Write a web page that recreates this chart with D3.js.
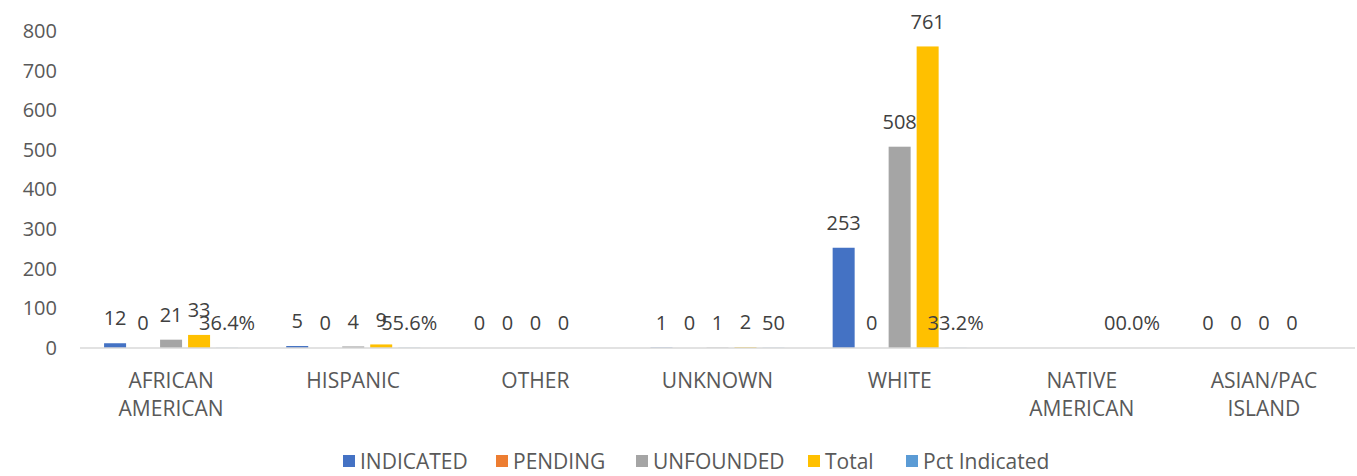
<!DOCTYPE html>
<html>
<head>
<meta charset="utf-8">
<script src="https://cdn.jsdelivr.net/npm/d3@7"></script>
<style>
  body { margin: 0; background: #fff; }
  text { font-family: "Open Sans", sans-serif; }
</style>
</head>
<body>
<div id="chart"></div>
<script>
// chart data
const categories = ["AFRICAN AMERICAN", "HISPANIC", "OTHER", "UNKNOWN", "WHITE", "NATIVE AMERICAN", "ASIAN/PAC ISLAND"];
const seriesNames = ["INDICATED", "PENDING", "UNFOUNDED", "Total", "Pct Indicated"];
const indicated = [12, 5, 0, 1, 253, null, 0];
const pending = [0, 0, 0, 0, 0, null, 0];
const unfounded = [21, 4, 0, 1, 508, null, 0];
const total = [33, 9, 0, 2, 761, 0, 0];
const pctIndicated = [0.364, 0.556, null, 0.5, 0.332, 0, null];
const pctLabels = ["36.4%", "55.6%", "", "50", "33.2%", "0.0%", ""];
const yTicks = [0, 100, 200, 300, 400, 500, 600, 700, 800];

const colors = ["#4472C4", "#ED7D31", "#A5A5A5", "#FFC000", "#5B9BD5"];

const W = 1357, H = 476;
const margin = {top: 31, right: 2, bottom: 128, left: 80};
const width = W - margin.left - margin.right;
const height = H - margin.top - margin.bottom;

const svg = d3.select("#chart").append("svg")
  .attr("width", W).attr("height", H);
const g = svg.append("g")
  .attr("transform", "translate(" + margin.left + "," + margin.top + ")");

// build rows
const valuesBySeries = [indicated, pending, unfounded, total, pctIndicated];
const rows = categories.map((c, i) => ({
  cat: c,
  vals: seriesNames.map((s, k) => ({
    key: s, k: k, value: valuesBySeries[k][i],
    label: k === 4 ? pctLabels[i] : (valuesBySeries[k][i] == null ? "" : String(valuesBySeries[k][i]))
  }))
}));

const x0 = d3.scaleBand().domain(categories).range([0, width]);
const x1 = d3.scaleBand().domain(seriesNames).range([0, x0.bandwidth()])
  .paddingInner(0.214).paddingOuter(0.86);
const y = d3.scaleLinear().domain([0, 800]).range([height, 0]);

// y axis
const yAxis = g.append("g")
  .call(d3.axisLeft(y).tickValues(yTicks).tickSize(0).tickPadding(23));
yAxis.select(".domain").remove();
yAxis.selectAll("text")
  .style("font-size", "20px").attr("fill", "#595959")
  .attr("font-family", "Open Sans, sans-serif");

// bars
const groups = g.append("g").selectAll("g")
  .data(rows).enter().append("g")
  .attr("transform", d => "translate(" + x0(d.cat) + ",0)");

groups.selectAll("rect")
  .data(d => d.vals.filter(v => v.value != null))
  .enter().append("rect")
  .attr("x", d => x1(d.key))
  .attr("y", d => y(d.value))
  .attr("width", x1.bandwidth())
  .attr("height", d => height - y(d.value))
  .attr("fill", d => colors[d.k]);

// baseline
g.append("line")
  .attr("x1", 0).attr("x2", width)
  .attr("y1", height).attr("y2", height)
  .attr("stroke", "#d9d9d9").attr("stroke-width", 1.5);

// data labels
groups.selectAll("text.lbl")
  .data(d => d.vals.filter(v => v.label !== ""))
  .enter().append("text")
  .attr("class", "lbl")
  .attr("x", d => x1(d.key) + x1.bandwidth() / 2)
  .attr("y", d => y(d.value || 0) - 25)
  .attr("dy", "0.36em")
  .attr("text-anchor", "middle")
  .style("font-size", "20px")
  .attr("fill", "#404040")
  .text(d => d.label);

// x axis labels
const xAxis = g.append("g")
  .attr("transform", "translate(0," + height + ")")
  .call(d3.axisBottom(x0).tickSize(0).tickFormat(""));
xAxis.select(".domain").remove();
xAxis.selectAll(".tick").each(function(d) {
  const t = d3.select(this).append("text")
    .attr("text-anchor", "middle")
    .attr("fill", "#595959")
    .style("font-size", "21px");
  d.split(" ").forEach((w, i) => {
    t.append("tspan").attr("x", 0).attr("y", 32 + i * 28).attr("dy", "0.36em").text(w);
  });
});

// legend
const legendX = [343, 496, 636, 808, 906];
const legend = svg.append("g");
seriesNames.forEach((s, i) => {
  legend.append("rect").attr("x", legendX[i]).attr("y", 455).attr("width", 12).attr("height", 12)
    .attr("fill", colors[i]);
  legend.append("text").attr("x", legendX[i] + 17).attr("y", 461).attr("dy", "0.36em")
    .style("font-size", "21px").attr("fill", "#595959").text(s);
});
</script>
</body>
</html>
